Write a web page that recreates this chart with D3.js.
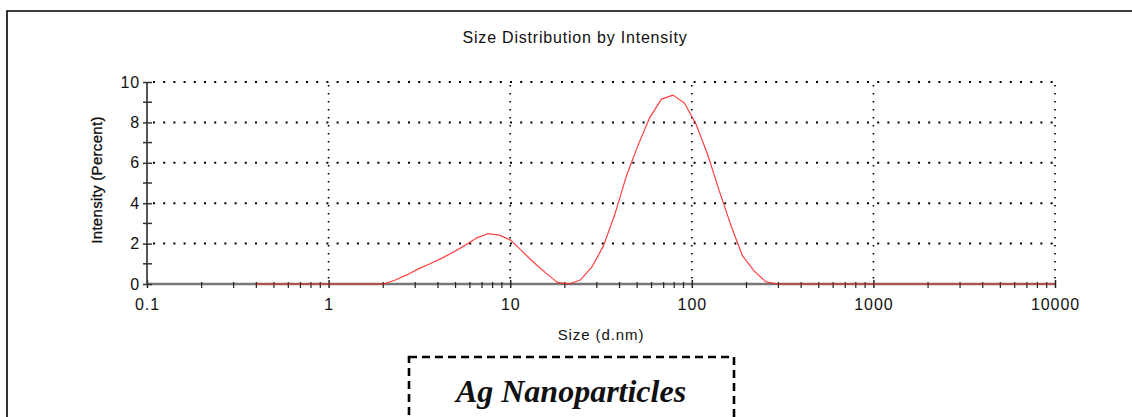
<!DOCTYPE html>
<html>
<head>
<meta charset="utf-8">
<script src="https://cdn.jsdelivr.net/npm/d3@7"></script>
<style>
  html, body { margin: 0; padding: 0; background: #fff; }
  svg { display: block; }
  text { font-family: "Liberation Sans", Arial, sans-serif; fill: #111; }
</style>
</head>
<body>
<svg id="chart" width="1132" height="417"></svg>
<script>
// ---- data ----
const sizes = [0.4, 0.4632, 0.5365, 0.6213, 0.7195, 0.8332, 0.9649, 1.117, 1.294, 1.499,
  1.736, 2.010, 2.328, 2.696, 3.122, 3.615, 4.187, 4.849, 5.615, 6.503,
  7.531, 8.721, 10.10, 11.70, 13.54, 15.69, 18.17, 21.04, 24.36, 28.21,
  32.67, 37.84, 43.82, 50.75, 58.77, 68.06, 78.82, 91.28, 105.7, 122.4,
  141.8, 164.2, 190.1, 220.2, 255.0, 295.3, 342.0, 396.1, 458.7, 531.2,
  615.1, 712.4, 825.0, 955.4, 1106, 1281, 1484, 1718, 1990, 2305,
  2669, 3091, 3580, 4145, 4801, 5560, 6439, 7456, 8635, 10000];
const intensity = [0, 0, 0, 0, 0, 0, 0, 0, 0, 0,
  0, 0, 0.2, 0.45, 0.75, 1.0, 1.27, 1.57, 1.9, 2.27,
  2.49, 2.42, 2.16, 1.6, 1.05, 0.55, 0.08, 0.0, 0.2, 0.85,
  1.9, 3.5, 5.4, 6.9, 8.25, 9.15, 9.35, 8.95, 7.9, 6.4,
  4.6, 2.9, 1.4, 0.65, 0.12, 0, 0, 0, 0, 0,
  0, 0, 0, 0, 0, 0, 0, 0, 0, 0,
  0, 0, 0, 0, 0, 0, 0, 0, 0, 0];
const xTicks = [0.1, 1, 10, 100, 1000, 10000];
const xTickLabels = ["0.1", "1", "10", "100", "1000", "10000"];
const yTicks = [0, 2, 4, 6, 8, 10];
const yMinorTicks = [1, 3, 5, 7, 9];
const title = "Size Distribution by Intensity";
const xTitle = "Size (d.nm)";
const yTitle = "Intensity (Percent)";
const annotation = "Ag Nanoparticles";

// ---- layout ----
const svg = d3.select("#chart");
const x = d3.scaleLog().domain([0.1, 10000]).range([147, 1055]);
const y = d3.scaleLinear().domain([0, 10]).range([284, 82]);

// outer frame (top + left)
svg.append("path")
  .attr("d", "M7,417V11H1132")
  .attr("fill", "none").attr("stroke", "#000").attr("stroke-width", 1.6);

// title
svg.append("text").attr("x", 575).attr("y", 43).attr("text-anchor", "middle")
  .style("font-size", "16px").style("letter-spacing", "0.8px").text(title);

// grid
const grid = svg.append("g");
grid.selectAll("line.h").data(yTicks.filter(d => d > 0)).join("line")
  .attr("x1", x(0.1) + 6).attr("x2", x(10000) + 1)
  .attr("y1", d => y(d)).attr("y2", d => y(d))
  .attr("stroke", "#000").attr("stroke-width", 2)
  .attr("stroke-dasharray", "2,8.2");
grid.selectAll("line.v").data(xTicks.filter(d => d > 0.1)).join("line")
  .attr("x1", d => x(d)).attr("x2", d => x(d))
  .attr("y1", y(10) + 3).attr("y2", y(0) - 2)
  .attr("stroke", "#000").attr("stroke-width", 1.6)
  .attr("stroke-dasharray", "1.6,6.4");

// x axis
const minorX = [];
for (let k = -1; k <= 3; k++) for (let m = 2; m <= 9; m++) minorX.push(m * Math.pow(10, k));
const xAxis = svg.append("g").attr("transform", `translate(0,${y(0)})`);
xAxis.call(d3.axisBottom(x).tickValues(xTicks).tickFormat((d, i) => xTickLabels[i]).tickSize(4).tickPadding(11));
xAxis.select(".domain").attr("stroke", "#777").attr("stroke-width", 2.4).attr("d", `M${x(0.1)},0H${x(10000)}`);
xAxis.selectAll(".tick line").attr("y1", -4).attr("y2", 4).attr("stroke", "#222").attr("stroke-width", 1.5);
xAxis.selectAll(".tick text").style("font-size", "16px").style("letter-spacing", "0.9px")
  .style("font-family", "'Liberation Sans', Arial, sans-serif").attr("fill", "#111");
xAxis.selectAll("line.minor").data(minorX).join("line").attr("class", "minor")
  .attr("x1", d => x(d)).attr("x2", d => x(d)).attr("y1", -2).attr("y2", 4)
  .attr("stroke", "#222").attr("stroke-width", 1.2);

// y axis
const yAxis = svg.append("g").attr("transform", `translate(${x(0.1)},0)`);
yAxis.call(d3.axisLeft(y).tickValues(yTicks).tickSize(4).tickPadding(3));
yAxis.select(".domain").attr("stroke", "#444").attr("stroke-width", 1.8).attr("d", `M0,${y(0)}V${y(10)}`);
yAxis.selectAll(".tick line").attr("x1", -4).attr("x2", 5).attr("stroke", "#333").attr("stroke-width", 1.5);
yAxis.selectAll(".tick text").style("font-size", "16px").style("letter-spacing", "0.9px")
  .style("font-family", "'Liberation Sans', Arial, sans-serif").attr("fill", "#111");
yAxis.selectAll("line.minor").data(yMinorTicks).join("line").attr("class", "minor")
  .attr("x1", -4).attr("x2", 5).attr("y1", d => y(d)).attr("y2", d => y(d))
  .attr("stroke", "#333").attr("stroke-width", 1.5);

// axis titles
svg.append("text").attr("x", 601).attr("y", 340).attr("text-anchor", "middle")
  .style("font-size", "15px").style("letter-spacing", "0.9px").text(xTitle);
svg.append("text").attr("transform", "translate(102,180) rotate(-90)").attr("text-anchor", "middle")
  .style("font-size", "15px").style("letter-spacing", "0.3px").attr("fill", "#000")
  .attr("stroke", "#000").attr("stroke-width", 0.3).text(yTitle);

// curve
const line = d3.line().x((d, i) => x(sizes[i])).y(d => y(d)).curve(d3.curveLinear);
svg.append("path").datum(intensity).attr("d", line)
  .attr("fill", "none").attr("stroke", "#ff1f1f").attr("stroke-width", 1.2)
  .attr("stroke-opacity", 0.85).attr("stroke-linejoin", "round");

// annotation box
svg.append("rect").attr("x", 409).attr("y", 357).attr("width", 325).attr("height", 120)
  .attr("fill", "none").attr("stroke", "#000").attr("stroke-width", 2.6)
  .attr("stroke-dasharray", "8,5");
svg.append("text").attr("x", 571).attr("y", 402).attr("text-anchor", "middle")
  .style("font-family", "'Liberation Serif', 'Times New Roman', serif")
  .style("font-style", "italic").style("font-weight", "bold").style("font-size", "32px")
  .attr("fill", "#000").text(annotation);
</script>
</body>
</html>
